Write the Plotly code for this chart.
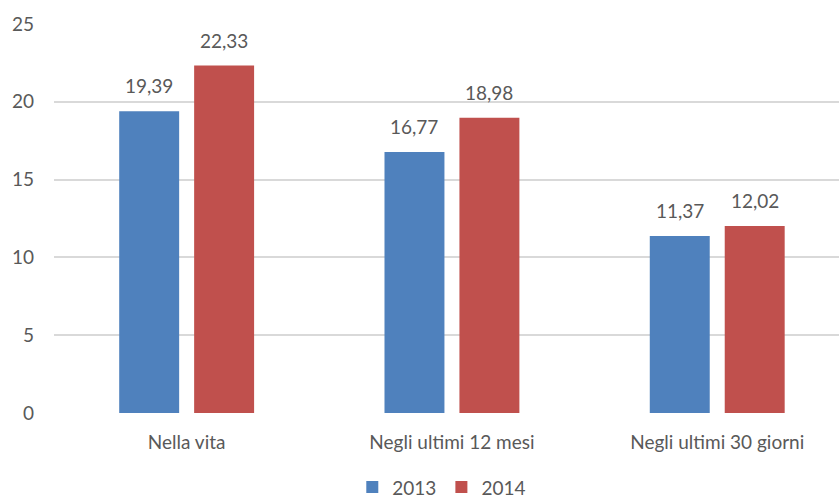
import plotly.graph_objects as go

# Survey results by period and year
categories = ["Nella vita", "Negli ultimi 12 mesi", "Negli ultimi 30 giorni"]
years = ["2013", "2014"]
values_2013 = [19.39, 16.77, 11.37]
values_2014 = [22.33, 18.98, 12.02]
y_ticks = [0, 5, 10, 15, 20, 25]

colors = {"2013": "#4f81bd", "2014": "#c0504d"}
text_color = "#595959"
font_family = "Lato, 'Noto Sans', sans-serif"

bargap = 0.435
bargroupgap = 0.2

fig = go.Figure()
for year, vals in zip(years, [values_2013, values_2014]):
    fig.add_trace(go.Bar(
        name=year,
        x=list(range(len(categories))),
        y=vals,
        marker=dict(color=colors[year], line=dict(width=0)),
    ))

# Value labels above each bar, with comma decimal separator
slot = (1 - bargap) / 2
for j, vals in enumerate([values_2013, values_2014]):
    offset = (j - 0.5) * slot
    for i, v in enumerate(vals):
        fig.add_annotation(
            x=i + offset, y=v, xref="x", yref="y",
            text=f"{v:.2f}".replace(".", ","),
            showarrow=False, yanchor="bottom", yshift=12,
            font=dict(size=19, color=text_color, family=font_family),
        )

fig.update_layout(
    width=839, height=499,
    margin=dict(l=54, r=0, t=24, b=85.5, autoexpand=False),
    paper_bgcolor="white", plot_bgcolor="white",
    barmode="group", bargap=bargap, bargroupgap=bargroupgap,
    font=dict(family=font_family, size=19, color=text_color),
    showlegend=True,
    legend=dict(
        orientation="h", x=0.494, xanchor="center", y=-0.142, yanchor="top",
        font=dict(size=19, color=text_color),
        itemwidth=30, tracegroupgap=0,
    ),
)
fig.update_xaxes(
    range=[-0.5, 2.459],
    tickmode="array", tickvals=list(range(len(categories))), ticktext=categories,
    showgrid=False, zeroline=False, showline=False, ticks="",
    ticklabelstandoff=16,
    tickfont=dict(size=19, color=text_color),
)
fig.update_yaxes(
    range=[0, 25], tickvals=y_ticks,
    showgrid=True, gridcolor="#d9d9d9", gridwidth=1.5,
    zeroline=False, showline=False, ticks="",
    ticklabelstandoff=19,
    tickfont=dict(size=19, color=text_color),
)

fig.write_html("out.html")
